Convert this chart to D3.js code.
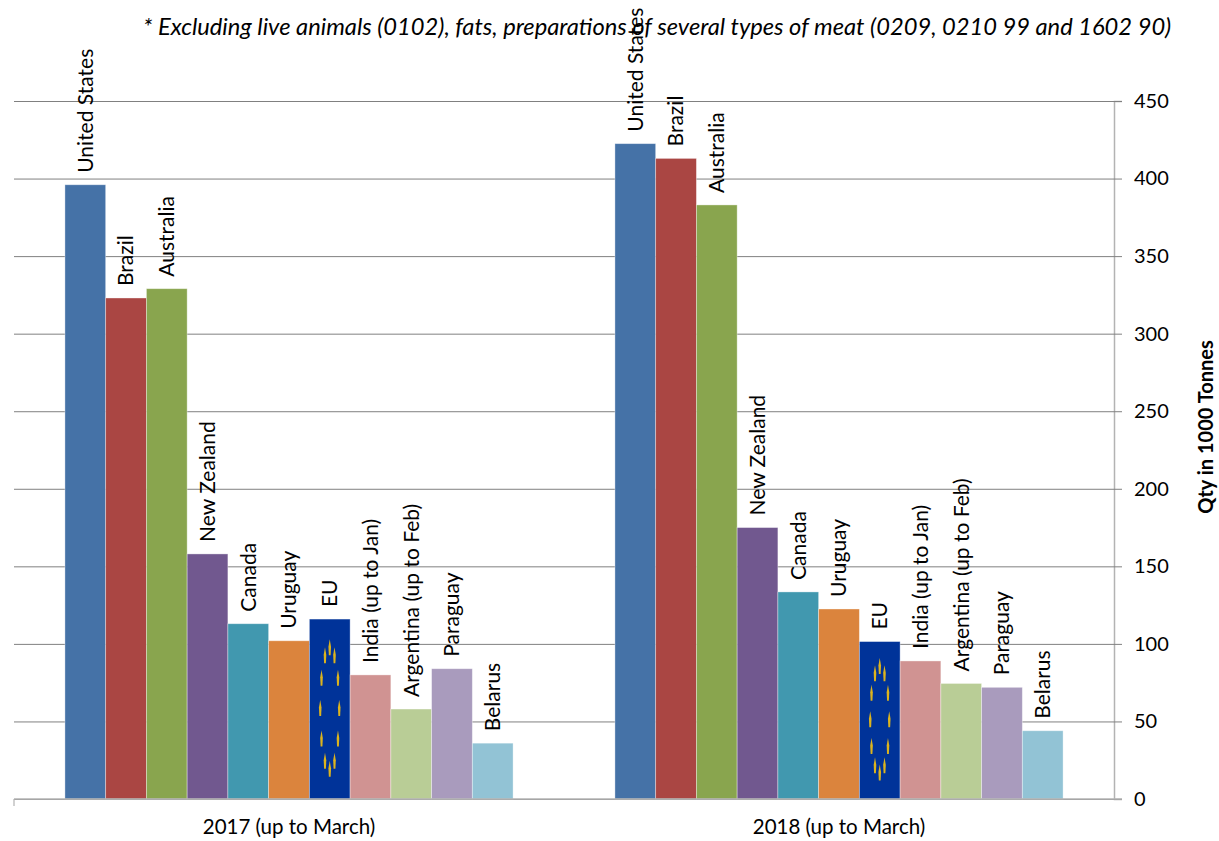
<!DOCTYPE html>
<html>
<head>
<meta charset="utf-8">
<script src="https://cdn.jsdelivr.net/npm/d3@7"></script>
<style>
  html, body { margin: 0; padding: 0; background: #fff; }
  svg { display: block; }
  text { font-family: Lato, "Open Sans", sans-serif; fill: #000; }
</style>
</head>
<body>
<div id="chart"></div>
<script>
const periods = ["2017 (up to March)", "2018 (up to March)"];
const countries = ["United States", "Brazil", "Australia", "New Zealand", "Canada", "Uruguay", "EU",
  "India (up to Jan)", "Argentina (up to Feb)", "Paraguay", "Belarus"];
const values2017 = [396, 323, 329, 158, 113, 102, 116, 80, 58, 84, 36];
const values2018 = [422.5, 413, 383, 175, 133.5, 122.5, 101.5, 89, 74.5, 72, 44];
const barColors = ["#4572a7", "#aa4643", "#89a54e", "#71588f", "#4198af", "#db843d", "#003399",
  "#d09392", "#b9cd96", "#a99bbd", "#92c3d5"];
const yTicks = [0, 50, 100, 150, 200, 250, 300, 350, 400, 450];
const note = "* Excluding live animals (0102), fats, preparations of several types of meat (0209, 0210 99 and 1602 90)";
const yTitle = "Qty in 1000 Tonnes";

const width = 1219, height = 841;
const margin = {top: 101, right: 105, bottom: 42, left: 14};

const svg = d3.select("#chart").append("svg")
  .attr("width", width)
  .attr("height", height);

const x0 = d3.scaleBand()
  .domain(periods)
  .range([margin.left, width - margin.right]);

const x1 = d3.scaleBand()
  .domain(countries)
  .range([0, x0.bandwidth()])
  .paddingOuter(1.25)
  .align(0.5);

const y = d3.scaleLinear()
  .domain([0, 450])
  .range([height - margin.bottom, margin.top]);

const color = d3.scaleOrdinal().domain(countries).range(barColors);

const rows = [
  {period: periods[0], values: values2017},
  {period: periods[1], values: values2018}
];

// gridlines and right axis
const yAxis = g => g
  .attr("transform", `translate(${width - margin.right},0)`)
  .call(d3.axisRight(y).tickValues(yTicks).tickSize(8).tickPadding(12))
  .call(g => g.select(".domain").attr("stroke", "#b3b3b3").attr("stroke-width", 1.5))
  .call(g => g.selectAll(".tick line")
    .attr("stroke", "#808080"))
  .call(g => g.selectAll(".tick line")
    .clone()
    .attr("stroke", "#808080")
    .attr("x2", -(width - margin.right - margin.left)))
  .call(g => g.selectAll(".tick text")
    .style("font-size", "20px")
    .style("font-family", "Lato"));

svg.append("g").call(yAxis);

// bars
const groups = svg.selectAll("g.period")
  .data(rows)
  .enter().append("g")
  .attr("class", "period")
  .attr("transform", d => `translate(${x0(d.period)},0)`);

groups.selectAll("rect")
  .data(d => d.values.map((v, i) => ({country: countries[i], value: v})))
  .enter().append("rect")
  .attr("x", d => x1(d.country))
  .attr("y", d => y(d.value))
  .attr("width", x1.bandwidth())
  .attr("height", d => y(0) - y(d.value))
  .attr("fill", d => color(d.country))
  .attr("stroke", "#fff")
  .attr("stroke-opacity", 0.45)
  .attr("stroke-width", 0.8);

// EU flag fill: ring of twelve stars stretched with the bar
groups.each(function(d) {
  const eu = d.values[countries.indexOf("EU")];
  const cx = x1("EU") + x1.bandwidth() / 2;
  const cy = (y(eu) + y(0)) / 2;
  const ry = (y(0) - y(eu)) * 0.338;
  d3.select(this).selectAll("path.star")
    .data(d3.range(12))
    .enter().append("path")
    .attr("class", "star")
    .attr("d", "M0,-9L1.3,-1.5L0.9,7L-0.9,7L-1.3,-1.5Z")
    .attr("fill", "#dcb41e")
    .attr("transform", i => {
      const a = i * Math.PI / 6;
      return `translate(${cx + 9.5 * Math.cos(a)},${cy + ry * Math.sin(a)})`;
    });
});

// country labels above the bars
groups.selectAll("text.country")
  .data(d => d.values.map((v, i) => ({country: countries[i], value: v})))
  .enter().append("text")
  .attr("class", "country")
  .attr("text-anchor", "start")
  .attr("dy", "0.35em")
  .attr("transform", d => `translate(${x1(d.country) + x1.bandwidth() / 2},${y(d.value) - 12}) rotate(-90)`)
  .style("font-size", "21px")
  .text(d => d.country);

// bottom axis
const xAxis = g => g
  .attr("transform", `translate(0,${y(0)})`)
  .call(d3.axisBottom(x0).tickSize(0).tickPadding(20))
  .call(g => g.select(".domain").remove())
  .call(g => g.selectAll(".tick text")
    .style("font-size", "20.5px")
    .style("font-family", "Lato"));

svg.append("g").call(xAxis);

svg.append("line")
  .attr("x1", margin.left)
  .attr("x2", width - margin.right + 8)
  .attr("y1", y(0))
  .attr("y2", y(0))
  .attr("stroke", "#b3b3b3")
  .attr("stroke-width", 1.5);

svg.append("line")
  .attr("x1", margin.left)
  .attr("x2", margin.left)
  .attr("y1", y(0))
  .attr("y2", y(0) + 7)
  .attr("stroke", "#b3b3b3")
  .attr("stroke-width", 1.2);

// y axis title
svg.append("text")
  .attr("text-anchor", "middle")
  .attr("transform", `translate(1213,427) rotate(-90)`)
  .style("font-size", "20px")
  .style("font-weight", "bold")
  .text(yTitle);

// note on top
svg.append("text")
  .attr("x", 143)
  .attr("y", 35)
  .style("font-size", "23.7px")
  .style("font-style", "italic")
  .text(note);
</script>
</body>
</html>
